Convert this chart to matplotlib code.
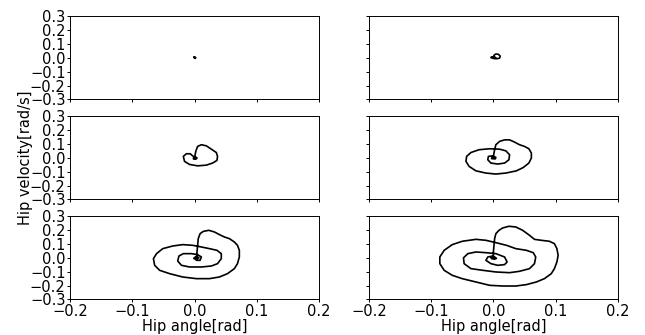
import matplotlib
matplotlib.use("Agg")
import matplotlib.pyplot as plt

# ---- data (hip angle [rad], hip velocity [rad/s]) ----
tl_angle = [0.0, 0.001, 0.002, 0.001, 0.0, -0.001, 0.0]
tl_vel = [0.0, 0.005, 0.0, -0.005, 0.0, 0.004, 0.0]

tr_angle = [0.0, 0.001, 0.004, 0.008, 0.011, 0.010, 0.006, 0.001, -0.004, -0.003, 0.001, 0.004, 0.002]
tr_vel = [0.0, 0.018, 0.027, 0.025, 0.012, -0.002, -0.007, -0.006, 0.001, 0.006, 0.006, 0.0, 0.001]

ml_angle = [0.0, 0.0, 0.002, 0.005, 0.011, 0.019, 0.027, 0.035, 0.037, 0.036, 0.029, 0.019,
            0.005, -0.008, -0.016, -0.018, -0.013, -0.007, -0.003, 0.0, 0.004, 0.003, -0.002, -0.001, 0.002]
ml_vel = [-0.01, -0.002, 0.046, 0.082, 0.094, 0.086, 0.062, 0.038, 0.010, -0.019, -0.038, -0.053,
          -0.058, -0.048, -0.026, 0.010, 0.029, 0.029, 0.014, 0.004, 0.0, -0.008, -0.006, 0.003, 0.002]

mr_angle = [-0.001, 0.0, 0.002, 0.004, 0.010, 0.018, 0.026, 0.034, 0.042, 0.050, 0.057, 0.061,
            0.061, 0.057, 0.048, 0.037, 0.020, 0.004, -0.012, -0.028, -0.039, -0.044, -0.043,
            -0.036, -0.023, -0.006, 0.010, 0.020, 0.026, 0.025, 0.018, 0.007, -0.004, -0.009,
            -0.008, -0.001, 0.004, 0.003, -0.003, -0.002, 0.002]
mr_vel = [-0.002, 0.010, 0.058, 0.094, 0.118, 0.129, 0.129, 0.113, 0.094, 0.082, 0.065, 0.034,
          -0.002, -0.038, -0.070, -0.094, -0.110, -0.117, -0.110, -0.094, -0.062, -0.026, 0.010,
          0.038, 0.058, 0.065, 0.062, 0.050, 0.022, -0.014, -0.038, -0.045, -0.038, -0.014,
          0.010, 0.014, 0.002, -0.008, -0.006, 0.004, 0.001]

bl_angle = [0.003, 0.004, 0.005, 0.006, 0.009, 0.014, 0.023, 0.032, 0.040, 0.048, 0.056, 0.064,
            0.069, 0.072, 0.072, 0.069, 0.064, 0.053, 0.040, 0.024, 0.003, -0.019, -0.040,
            -0.056, -0.064, -0.066, -0.061, -0.051, -0.035, -0.019, -0.003, 0.011, 0.024, 0.036,
            0.043, 0.043, 0.037, 0.027, 0.011, -0.008, -0.021, -0.027, -0.025, -0.018, -0.005,
            0.005, 0.011, 0.009, 0.003, 0.0, 0.004, 0.007, 0.004, -0.001, 0.001, 0.004]
bl_vel = [-0.006, 0.042, 0.090, 0.138, 0.174, 0.190, 0.198, 0.186, 0.167, 0.150, 0.138, 0.114,
          0.090, 0.054, 0.006, -0.042, -0.078, -0.114, -0.138, -0.150, -0.150, -0.138, -0.114,
          -0.090, -0.054, -0.006, 0.030, 0.066, 0.085, 0.095, 0.090, 0.078, 0.066, 0.054,
          0.030, -0.006, -0.042, -0.059, -0.066, -0.066, -0.054, -0.023, 0.013, 0.030, 0.030,
          0.023, 0.006, -0.018, -0.018, 0.0, 0.008, 0.0, -0.008, -0.005, 0.004, 0.001]

br_angle = [0.0, 0.0, 0.001, 0.002, 0.004, 0.009, 0.015, 0.025, 0.036, 0.047, 0.058, 0.066,
            0.077, 0.090, 0.098, 0.102, 0.104, 0.102, 0.098, 0.093, 0.082, 0.069, 0.053, 0.036,
            0.015, -0.006, -0.028, -0.050, -0.066, -0.079, -0.086, -0.086, -0.079, -0.066,
            -0.050, -0.028, -0.012, 0.004, 0.021, 0.036, 0.053, 0.064, 0.068, 0.066, 0.058,
            0.042, 0.026, 0.004, -0.017, -0.036, -0.047, -0.048, -0.041, -0.028, -0.012, 0.004,
            0.018, 0.022, 0.018, 0.007, -0.004, -0.012, -0.009, -0.002, 0.002, 0.005, 0.002,
            -0.003, -0.004, 0.0]
br_vel = [0.0, 0.042, 0.090, 0.138, 0.174, 0.198, 0.215, 0.227, 0.222, 0.198, 0.162, 0.133,
          0.126, 0.119, 0.102, 0.066, 0.018, -0.030, -0.078, -0.114, -0.150, -0.174, -0.193,
          -0.203, -0.203, -0.198, -0.174, -0.150, -0.126, -0.090, -0.042, 0.006, 0.054, 0.095,
          0.119, 0.133, 0.126, 0.109, 0.090, 0.066, 0.054, 0.037, 0.006, -0.042, -0.078,
          -0.097, -0.107, -0.102, -0.090, -0.078, -0.042, 0.0, 0.030, 0.042, 0.037, 0.030,
          0.006, -0.030, -0.049, -0.054, -0.042, -0.018, 0.006, 0.012, 0.006, -0.004, -0.010,
          -0.006, 0.004, 0.0]

x_ticks = [-0.2, -0.1, 0.0, 0.1, 0.2]
y_ticks = [-0.3, -0.2, -0.1, 0.0, 0.1, 0.2, 0.3]

panels = [[(tl_angle, tl_vel), (tr_angle, tr_vel)],
          [(ml_angle, ml_vel), (mr_angle, mr_vel)],
          [(bl_angle, bl_vel), (br_angle, br_vel)]]

FS = 10.5
plt.rcParams['font.family'] = ['DejaVu Sans']
plt.rcParams['font.size'] = FS

fig, axes = plt.subplots(3, 2, figsize=(6.45, 3.35), dpi=100, sharex=True, sharey=True)
fig.subplots_adjust(left=0.1085, right=0.958, bottom=0.106, top=0.952, wspace=0.2, hspace=0.2)

for r in range(3):
    for c in range(2):
        ax = axes[r, c]
        xs, ys = panels[r][c]
        ax.plot(xs, ys, color='black', linewidth=1.2)
        ax.set_xlim(-0.2, 0.2)
        ax.set_ylim(-0.3, 0.3)
        ax.set_xticks(x_ticks)
        ax.set_yticks(y_ticks)
        ax.tick_params(axis='both', labelsize=FS, length=2, width=0.7, pad=1.2)
        for sp in ax.spines.values():
            sp.set_linewidth(0.7)

for c in range(2):
    axes[2, c].set_xlabel('Hip angle[rad]', fontsize=FS, labelpad=0)
axes[1, 0].set_ylabel('Hip velocity[rad/s]', fontsize=FS, labelpad=-2)

fig.savefig('out.png', dpi=100)
